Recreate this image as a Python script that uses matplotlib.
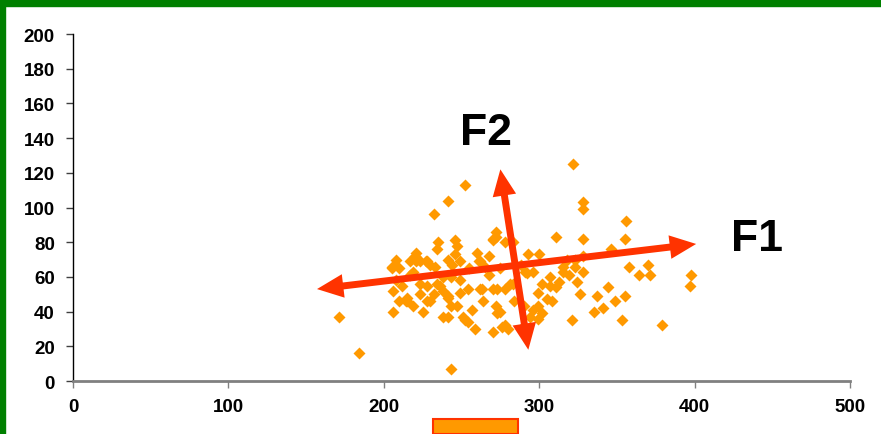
import matplotlib
matplotlib.use("Agg")
import matplotlib.pyplot as plt
from matplotlib.patches import Rectangle, FancyArrowPatch

# --- data ---
x_vals = [171, 184, 243, 252, 241, 232, 322, 328, 328, 356, 355, 328, 311, 398, 397,
          379, 353, 321, 358, 370, 364, 371, 346, 300, 335, 341, 355, 349, 344, 337,
          328, 324, 326, 319, 315, 313, 307, 307, 302, 311, 323, 292, 296, 299, 305,
          308, 299, 296, 302, 294, 299, 284, 290, 283, 291, 318, 323, 328, 315, 278,
          275, 283, 272, 270, 288, 208, 205, 206, 221, 217, 223, 228, 235, 234, 246,
          247, 241, 249, 260, 268, 262, 270, 278, 268, 263, 270, 264, 272, 273, 257,
          259, 270, 276, 280, 281, 208, 206, 212, 215, 219, 225, 230, 234, 238, 241,
          247, 251, 241, 244, 249, 238, 223, 217, 210, 230, 244, 254, 214, 228, 236,
          243, 228, 219, 220, 227, 272, 261, 238, 249, 243, 241, 252, 221, 215, 205,
          262, 273, 233, 255, 246, 265, 254, 232, 210, 223, 275, 278, 288, 293]
y_vals = [37, 16, 7, 113, 104, 96, 125, 103, 99, 92, 82, 82, 83, 61, 55,
          32, 35, 35, 66, 67, 61, 61, 76, 73, 40, 42, 49, 46, 54, 49,
          63, 57, 50, 61, 63, 57, 60, 55, 56, 54, 66, 62, 63, 51, 47,
          46, 43, 41, 39, 37, 36, 46, 43, 56, 63, 70, 70, 72, 66, 32,
          40, 80, 86, 82, 30, 70, 65, 40, 74, 69, 69, 69, 80, 76, 81,
          78, 70, 69, 74, 72, 69, 81, 80, 61, 53, 53, 46, 43, 39, 41,
          30, 28, 31, 30, 56, 58, 52, 55, 48, 43, 40, 46, 56, 52, 48,
          43, 37, 37, 62, 58, 60, 56, 61, 46, 67, 67, 34, 46, 46, 55,
          60, 55, 63, 72, 69, 83, 69, 37, 51, 43, 49, 35, 69, 46, 66,
          53, 53, 66, 65, 73, 66, 53, 50, 65, 50, 65, 53, 67, 73]

# principal axes (tail, head)
f1_start, f1_end = (157, 53), (401, 79)
f2_start, f2_end = (293, 18), (275, 122)

x_ticks = [0, 100, 200, 300, 400, 500]
y_ticks = list(range(0, 201, 20))

orange = "#FF9900"
arrow_red = "#FF3300"

fig = plt.figure(figsize=(8.81, 4.35), dpi=100)
ax = fig.add_axes([0.0829, 0.1218, 0.8819, 0.7977])

ax.plot(x_vals, y_vals, linestyle="none", marker="D", ms=6,
        color=orange, mec="none", zorder=2)

for a, b in [(f1_start, f1_end), (f2_start, f2_end)]:
    # shaft
    ax.add_patch(FancyArrowPatch(a, b, arrowstyle="-", lw=5, color=arrow_red,
                                 shrinkA=10, shrinkB=10, capstyle="butt", zorder=3))
    # heads
    ax.add_patch(FancyArrowPatch(a, b, arrowstyle="<|-|>,head_length=19,head_width=8.5",
                                 mutation_scale=1, lw=0, color=arrow_red,
                                 shrinkA=0, shrinkB=0, zorder=3))

ax.text(440, 82, "F1", fontsize=32, fontweight="bold", family="Liberation Sans",
        ha="center", va="center")
ax.text(266, 143, "F2", fontsize=32, fontweight="bold", family="Liberation Sans",
        ha="center", va="center")

ax.set_xlim(0, 500)
ax.set_ylim(0, 200)
ax.set_xticks(x_ticks)
ax.set_yticks(y_ticks)
ax.spines["top"].set_visible(False)
ax.spines["right"].set_visible(False)
ax.spines["bottom"].set_color("#808080")
ax.spines["bottom"].set_linewidth(2)
ax.spines["left"].set_color("black")
ax.spines["left"].set_linewidth(1)
ax.tick_params(axis="y", direction="out", length=5, width=1, color="#404040", pad=8)
ax.tick_params(axis="x", direction="out", length=5, width=1, color="#808080", pad=7)
for lab in ax.get_xticklabels() + ax.get_yticklabels():
    lab.set_fontweight("bold")
    lab.set_fontsize(13.5)
    lab.set_family("Liberation Sans")

# green slide border and the orange box under the axis
fig.patches.append(Rectangle((0, 1 - 7 / 435), 1, 7 / 435, transform=fig.transFigure,
                             color="#008000", zorder=0))
fig.patches.append(Rectangle((0, 0), 5 / 881, 1, transform=fig.transFigure,
                             color="#008000", zorder=0))
fig.patches.append(Rectangle((433 / 881, 0), 85 / 881, 15 / 435, transform=fig.transFigure,
                             facecolor=orange, edgecolor=arrow_red, lw=1.5, zorder=0))

fig.savefig("out.png", dpi=100)
